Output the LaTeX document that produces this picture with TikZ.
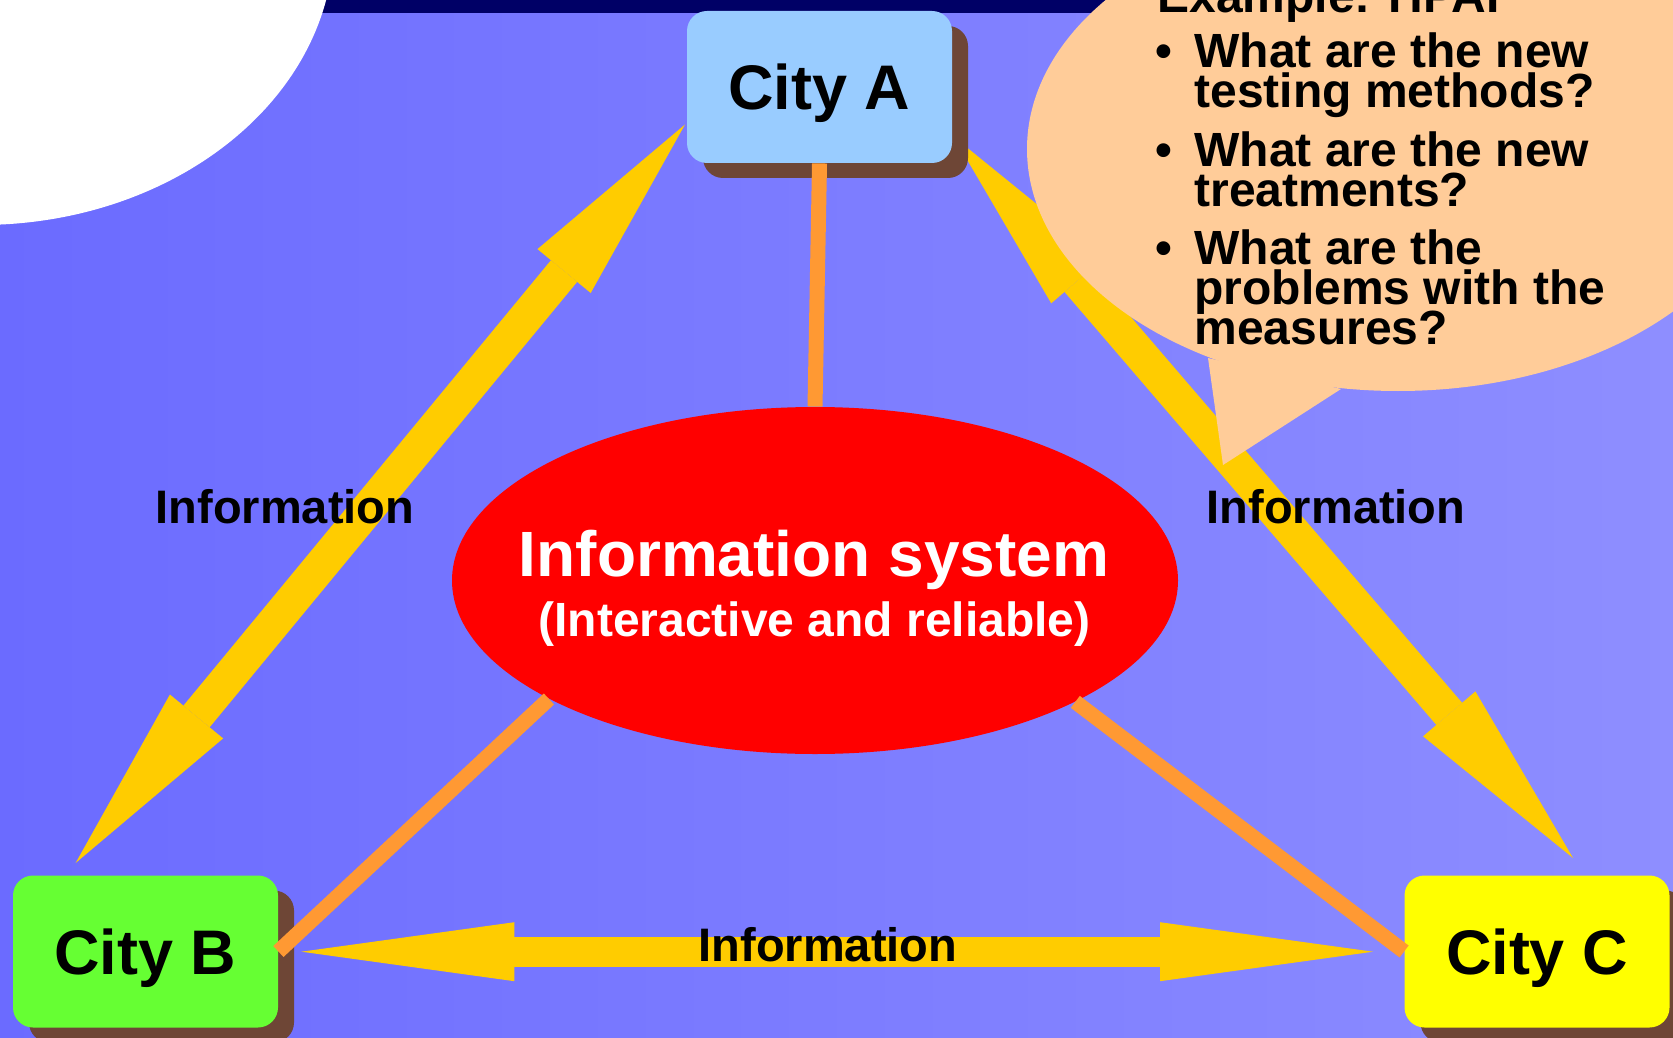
\documentclass[tikz,border=0pt]{standalone}
\usepackage{fontspec}
\setmainfont{Liberation Sans}
\usetikzlibrary{arrows.meta,shapes.geometric,shadows}

\definecolor{bgleft}{HTML}{6B6BFF}
\definecolor{bgright}{HTML}{8E8EFF}
\definecolor{navyband}{HTML}{000066}
\definecolor{infoyellow}{HTML}{FFCC00}
\definecolor{linkorange}{HTML}{FF9933}
\definecolor{cityblue}{HTML}{99CCFF}
\definecolor{citygreen}{HTML}{66FF33}
\definecolor{cityyellow}{HTML}{FFFF00}
\definecolor{bubble}{HTML}{FFCC99}
\definecolor{shadowbrown}{HTML}{6E4636}

\begin{document}
\begin{tikzpicture}[x = 0.5pt, y = -0.5pt,
	city/.style = {rounded corners = 10pt, minimum width = 132.5pt, minimum height = 76pt, inner sep = 0pt, text depth = 0pt, font = \fontsize{31.5}{36}\selectfont\bfseries, general shadow = {fill = shadowbrown, shadow xshift = 8pt, shadow yshift = -7.5pt}},
	link/.style = {draw = linkorange, line width = 7.5pt},
	diag/.style = {draw = infoyellow, line width = 17pt, {Triangle[length = 95pt, width = 34.5pt, line width = 0pt]}-{Triangle[length = 95pt, width = 34.5pt, line width = 0pt]}},
	flat/.style = {draw = infoyellow, line width = 15pt, {Triangle[length = 106.5pt, width = 29.5pt, line width = 0pt]}-{Triangle[length = 106.5pt, width = 29.5pt, line width = 0pt]}},
	info/.style = {anchor = base, inner sep = 0pt, font = \fontsize{23.5}{28}\selectfont\bfseries},
	ask/.style = {anchor = base west, inner sep = 0pt, font = \fontsize{24}{20}\selectfont\bfseries}]
	\useasboundingbox (0, 0) rectangle (1673, 1037);
	\clip (0, 0) rectangle (1673, 1037);
	\shade[left color = bgleft, right color = bgright] (0, 0) rectangle (1673, 1037);
	\fill[navyband] (0, 0) rectangle (1673, 13);
	\fill[white] (-20, -60) ellipse [x radius = 354, y radius = 285];

	\coordinate (abA) at (685, 124.5);
	\coordinate (abB) at (75.6, 863);
	\coordinate (acA) at (953.6, 136.7);
	\coordinate (acC) at (1573, 858);
	\coordinate (bcB) at (301.4, 951.7);
	\coordinate (bcC) at (1373, 951.7);
	\draw[diag] (abB) -- (abA);
	\draw[diag] (acA) -- (acC);
	\draw[flat] (bcB) -- (bcC);

	\node[ellipse, fill = red, minimum width = 363pt, minimum height = 173.5pt, inner sep = 0pt] (sys) at (815, 580.5) {};
	\node[anchor = base, inner sep = 0pt, text = white, font = \fontsize{32}{36}\selectfont\bfseries] (sysname) at (814, 576) {Information system};
	\node[anchor = base, inner sep = 0pt, text = white, font = \fontsize{24}{28}\selectfont\bfseries] (sysnote) at (814.5, 636.7) {(Interactive and reliable)};

	\node[city, fill = cityblue] (cityA) at (819.5, 87) {City A};
	\node[city, fill = citygreen] (cityB) at (145.5, 951.5) {City B};
	\node[city, fill = cityyellow] (cityC) at (1537, 951.5) {City C};

	\draw[link] (sys.north) -- (cityA.south);
	\draw[link] (sys.204.6) -- (cityB.east);
	\draw[link] (sys.335.1) -- (cityC.west);

	\node[info] (infoAB) at (285, 523) {Information};
	\node[info] (infoAC) at (1336, 523) {Information};
	\node[info] (infoBC) at (828, 961) {Information};

	\fill[bubble] (1398, 149) ellipse [x radius = 371, y radius = 242];
	\fill[bubble] (1208, 358) -- (1223, 465) -- (1341, 389) -- cycle;
	\node[ask] (head) at (1157, 12.7) {Example: HPAI};
	\node[ask] (dot1) at (1155, 68) {•};
	\node[ask] (q1a) at (1194, 68) {What are the new};
	\node[ask] (q1b) at (1194, 108) {testing methods?};
	\node[ask] (dot2) at (1155, 167) {•};
	\node[ask] (q2a) at (1194, 167) {What are the new};
	\node[ask] (q2b) at (1194, 207) {treatments?};
	\node[ask] (dot3) at (1155, 265) {•};
	\node[ask] (q3a) at (1194, 265) {What are the};
	\node[ask] (q3b) at (1194, 305) {problems with the};
	\node[ask] (q3c) at (1194, 344) {measures?};
\end{tikzpicture}
\end{document}
